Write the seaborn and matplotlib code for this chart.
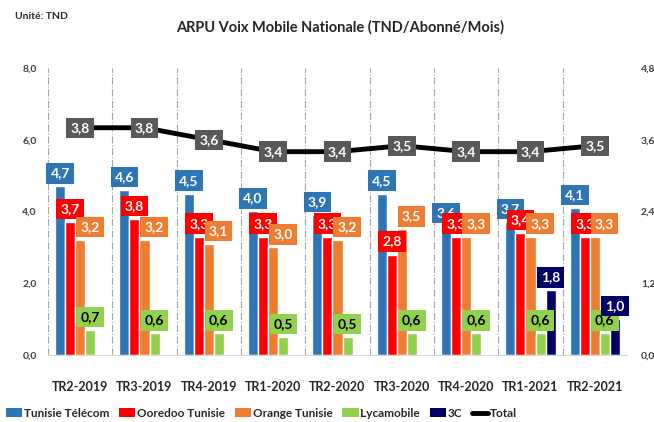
import matplotlib
matplotlib.use("Agg")
import matplotlib.pyplot as plt
import seaborn as sns
import numpy as np
import pandas as pd
from matplotlib.patches import Patch
from matplotlib.lines import Line2D

quarters = ["TR2-2019", "TR3-2019", "TR4-2019", "TR1-2020", "TR2-2020",
            "TR3-2020", "TR4-2020", "TR1-2021", "TR2-2021"]
operators = ["Tunisie Télécom", "Ooredoo Tunisie", "Orange Tunisie", "Lycamobile", "3C"]
tt = [4.7, 4.6, 4.5, 4.0, 3.9, 4.5, 3.6, 3.7, 4.1]
ooredoo = [3.7, 3.8, 3.3, 3.3, 3.3, 2.8, 3.3, 3.4, 3.3]
orange = [3.2, 3.2, 3.1, 3.0, 3.2, 3.5, 3.3, 3.3, 3.3]
lyca = [0.7, 0.6, 0.6, 0.5, 0.5, 0.6, 0.6, 0.6, 0.6]
c3 = [np.nan] * 7 + [1.8, 1.0]
total = [3.8, 3.8, 3.6, 3.4, 3.4, 3.5, 3.4, 3.4, 3.5]

colors = ["#2E75B6", "#FF0000", "#ED7D31", "#92D050", "#000066"]
text_colors = ["white", "white", "white", "black", "white"]
label_shift = [0, 0, 7, 0, 0]  # orange labels pushed right, like Excel does

rows = []
for op, vals in zip(operators, [tt, ooredoo, orange, lyca, c3]):
    for q, v in zip(quarters, vals):
        rows.append({"quarter": q, "operator": op, "value": v})
df = pd.DataFrame(rows)

sns.set_style("white")
plt.rcParams["font.family"] = ["Lato", "DejaVu Sans"]

fig = plt.figure(figsize=(6.54, 4.22), dpi=100)
ax = fig.add_axes([0.0734, 0.1588, 0.8853, 0.6802])

sns.barplot(data=df.dropna(), x="quarter", y="value", hue="operator",
            order=quarters, hue_order=operators, palette=colors,
            width=0.78, saturation=1, ax=ax, legend=False, errorbar=None)

ax.set_ylim(0, 8)
ax.set_yticks(np.arange(0, 8.1, 2))
ax.set_yticklabels([f"{t:.1f}".replace(".", ",") for t in np.arange(0, 8.1, 2)],
                   fontsize=7.5, fontweight="bold", color="#404040")
ax.set_xlim(-0.5, 8.5)
ax.set_xlabel("")
ax.set_ylabel("")
ax.tick_params(axis="x", length=0, pad=19, labelsize=9)
ax.tick_params(axis="y", length=0, pad=8)
for lab in ax.get_xticklabels():
    lab.set_fontweight("bold")
for s in ["top", "right", "left"]:
    ax.spines[s].set_visible(False)
ax.spines["bottom"].set_color("#D9D9D9")

# dash-dot separators between quarters
ax.vlines(np.arange(-0.5, 9, 1), 0, 8, colors="#A6A6A6", linestyles="-.", lw=0.8, zorder=0)

# value labels in boxes
for cont, col, tcol, dx in zip(ax.containers, colors, text_colors, label_shift):
    labels = [f"{v:.1f}".replace(".", ",") for v in cont.datavalues]
    txts = ax.bar_label(cont, labels=labels, padding=5, fontsize=10, fontweight="bold",
                        color=tcol, bbox=dict(boxstyle="square,pad=0.3", fc=col, ec="none"))
    for t in txts:
        x0, y0 = t.xyann
        t.xyann = (x0 + dx, y0)

# total on secondary axis
ax2 = ax.twinx()
sns.lineplot(x=np.arange(len(quarters)), y=total, color="black", lw=3.5, ax=ax2)
ax2.set_ylim(0, 4.8)
ax2.set_xlim(-0.5, 8.5)
ax2.set_yticks(np.arange(0, 4.81, 1.2))
ax2.set_yticklabels([f"{t:.1f}".replace(".", ",") for t in np.arange(0, 4.81, 1.2)],
                    fontsize=7.5, fontweight="bold", color="#404040")
ax2.tick_params(axis="y", length=0, pad=10)
for s in ["top", "right", "left", "bottom"]:
    ax2.spines[s].set_visible(False)
for i, v in enumerate(total):
    ax2.text(i, v, f"{v:.1f}".replace(".", ","), ha="center", va="center",
             fontsize=10, fontweight="bold", color="white",
             bbox=dict(boxstyle="square,pad=0.3", fc="#595959", ec="none"))

fig.text(0.023, 0.955, "Unité: TND", fontsize=7.5, fontweight="bold", ha="left")
fig.text(0.52, 0.936, "ARPU Voix Mobile Nationale (TND/Abonné/Mois)",
         fontsize=10.5, fontweight="bold", ha="center", va="center")

handles = [Patch(facecolor=c, edgecolor="none") for c in colors]
handles.append(Line2D([0], [0], color="black", lw=3.5, solid_capstyle="round"))
fig.legend(handles, operators + ["Total"], loc="center", bbox_to_anchor=(0.40, 0.021),
           ncol=6, frameon=False, handlelength=1.4, handletextpad=0.15,
           columnspacing=0.8, prop={"weight": "bold", "size": 8.5})

fig.savefig("out.png", dpi=100)
